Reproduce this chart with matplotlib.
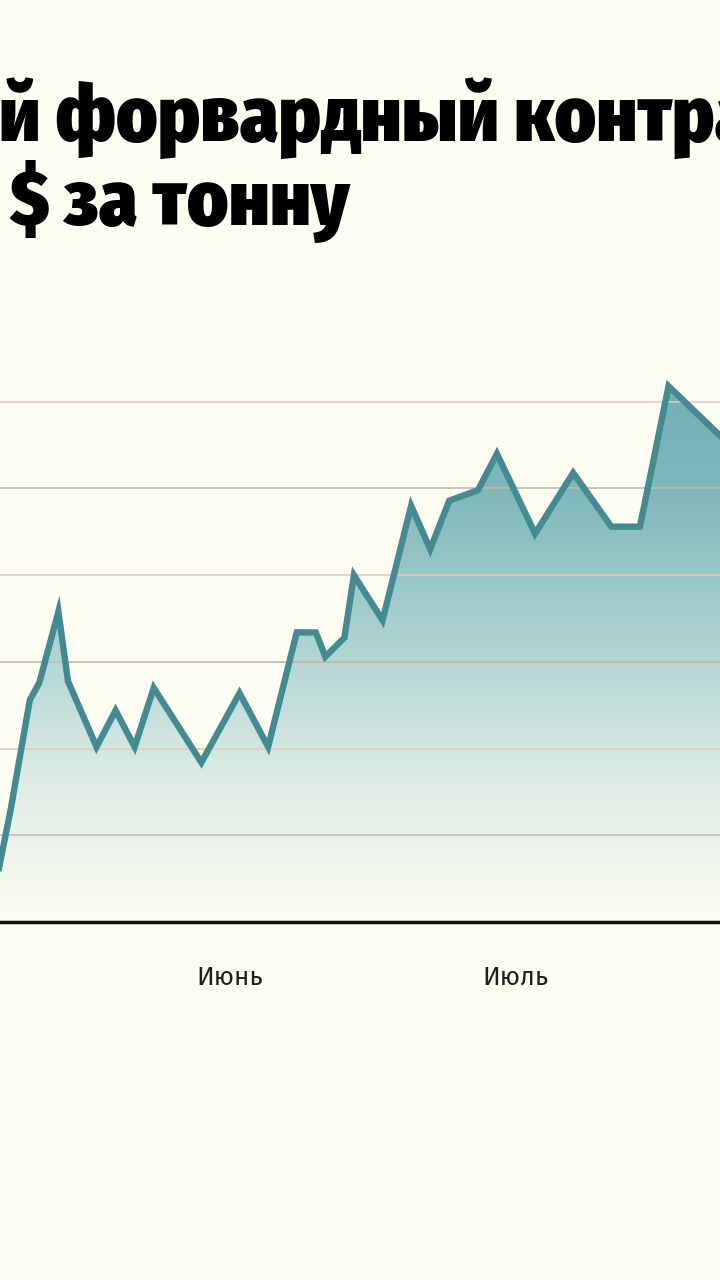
import matplotlib
matplotlib.use("Agg")
import matplotlib.pyplot as plt
import matplotlib.dates as mdates
import numpy as np
import pandas as pd
from matplotlib.colors import LinearSegmentedColormap

# price of the contract, $ per tonne
dates = pd.to_datetime([
    "2019-05-07", "2019-05-09", "2019-05-11", "2019-05-12", "2019-05-14",
    "2019-05-15", "2019-05-18", "2019-05-20", "2019-05-22", "2019-05-24",
    "2019-05-29", "2019-06-02", "2019-06-05", "2019-06-08", "2019-06-10",
    "2019-06-11", "2019-06-13", "2019-06-14", "2019-06-17", "2019-06-20",
    "2019-06-22", "2019-06-24", "2019-06-27", "2019-06-29", "2019-07-03",
    "2019-07-07", "2019-07-11", "2019-07-14", "2019-07-17", "2019-07-24",
])
prices = [
    11100, 11650, 12280, 12380, 12790, 12390, 12010, 12220, 12010, 12350,
    11920, 12320, 12010, 12670, 12670, 12530, 12640, 13000, 12740, 13400,
    13150, 13430, 13490, 13700, 13240, 13590, 13280, 13280, 14090, 13720,
]
grid_values = [11500, 12000, 12500, 13000, 13500, 14000]
month_ticks = pd.to_datetime(["2019-06-01", "2019-07-01"])
month_labels = ["Июнь", "Июль"]
title_line1 = "й форвардный контракт"
title_line2 = "$ за тонну"

BG = "#fdfdf2"
LINE = "#438a92"
TITLE_FONT = ["Fira Sans Condensed", "Fira Sans Extra Condensed", "Roboto Condensed", "DejaVu Sans"]

fig = plt.figure(figsize=(7.2, 12.8), dpi=100, facecolor=BG)

# axes fills the full width, bottom at 922 px, top at 290 px
ax = fig.add_axes([0, 1 - 922 / 1280, 1, (922 - 290) / 1280])
ax.set_facecolor(BG)

x = mdates.date2num(dates)
june1 = mdates.date2num(month_ticks[0])
px_per_day = 286 / 30
xlim = (june1 - 230 / px_per_day, june1 + 490 / px_per_day)
ylim = (11000, 11000 + (922 - 290) * 500 / 86.7)

# gradient under the line
cmap = LinearSegmentedColormap.from_list(
    "fill", [BG, "#dcece5", "#abd2d1", "#80b8bc", "#6cadb2"])
grad = np.linspace(0, 1, 256).reshape(-1, 1)
img = ax.imshow(grad, cmap=cmap, origin="lower", aspect="auto",
                extent=[x[0], x[-1], 11000, 14300], zorder=1)
poly = ax.fill_between(x, prices, 11000, color="none", zorder=1)
img.set_clip_path(poly.get_paths()[0], transform=ax.transData)
ax.set_xlim(*xlim)
ax.set_ylim(*ylim)

for i, g in enumerate(grid_values):
    col = "#c2b9ae" if i % 2 == 0 else "#e6c9bf"
    ax.axhline(g, color=col, lw=1.3, alpha=0.9, zorder=2)

ax.plot(x, prices, color=LINE, lw=4.6, solid_joinstyle="miter", zorder=3)

for s in ["top", "left", "right"]:
    ax.spines[s].set_visible(False)
ax.spines["bottom"].set_linewidth(2.5)
ax.spines["bottom"].set_color("#111111")
ax.set_yticks([])
ax.set_xticks(mdates.date2num(month_ticks))
ax.set_xticklabels(month_labels, family=["Fira Sans", "DejaVu Sans"], fontsize=18.5,
                   color="#1e1e1e")
ax.tick_params(axis="x", length=0, pad=31)

fig.text(-0.002, 1 - 141 / 1280, title_line1, family=TITLE_FONT,
         fontweight=900, fontsize=56, color="black", va="baseline")
fig.text(0.013, 1 - 225 / 1280, title_line2, family=TITLE_FONT,
         fontweight=900, fontsize=56, color="black", va="baseline")

fig.savefig("out.png", dpi=100, facecolor=BG)
